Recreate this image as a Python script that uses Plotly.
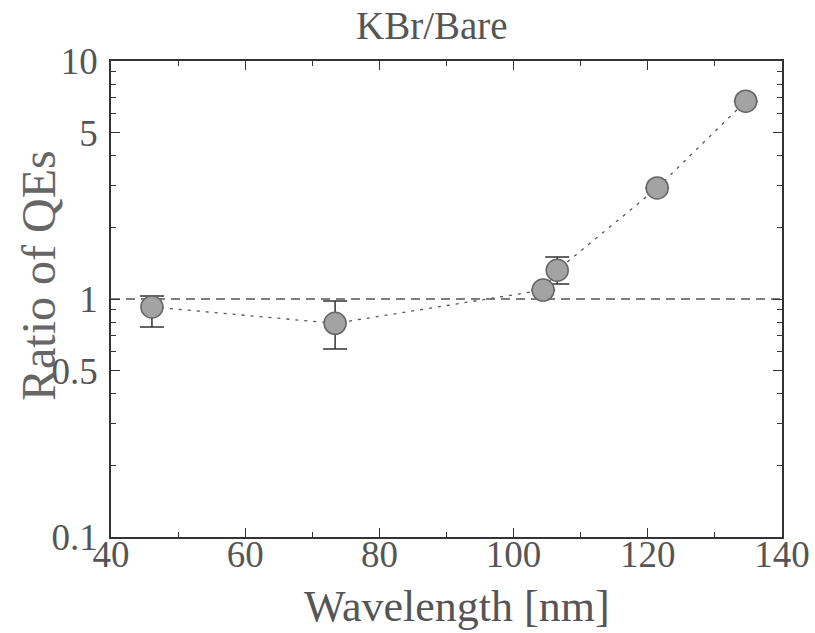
import plotly.graph_objects as go

wavelength = [46.1, 73.4, 104.4, 106.5, 121.4, 134.6]
ratio = [0.926, 0.79, 1.09, 1.32, 2.93, 6.78]
err_plus = [0.104, 0.19, 0.0, 0.18, 0.0, 0.0]
err_minus = [0.163, 0.173, 0.0, 0.164, 0.0, 0.0]

ref_x = [40, 140]
ref_y = [1, 1]

x_ticks = [40, 60, 80, 100, 120, 140]
x_minor = [50, 70, 90, 110, 130]
y_ticks = [0.1, 0.5, 1, 5, 10]
y_ticktext = ["0.1", "0.5", "1", "5", "10"]
y_minor = [0.2, 0.3, 0.4, 0.6, 0.7, 0.8, 0.9, 2, 3, 4, 6, 7, 8, 9]

FONT = "'Liberation Serif', 'Times New Roman', Times, serif"
TXT = "#555555"
AX = "#333333"

W, H = 815, 633
L, R, T, B = 111, 33, 61, 96
PW, PH = W - L - R, H - T - B

fig = go.Figure()
fig.add_trace(go.Scatter(
    x=ref_x, y=ref_y, mode="lines",
    line=dict(color="#555555", width=1.3, dash="9px,6px"),
    showlegend=False, hoverinfo="skip"))
fig.add_trace(go.Scatter(
    x=wavelength, y=ratio, mode="lines+markers",
    line=dict(color="#555555", width=1.3, dash="3px,6px"),
    marker=dict(size=22, color="#a3a3a3", line=dict(color="#666666", width=1.5)),
    error_y=dict(type="data", symmetric=False, array=err_plus, arrayminus=err_minus,
                 color="#333333", thickness=1.5, width=12),
    showlegend=False))

fig.update_layout(
    width=W, height=H,
    margin=dict(l=L, r=R, t=T, b=B, autoexpand=False),
    paper_bgcolor="white", plot_bgcolor="white",
    font=dict(family=FONT, color=TXT),
    annotations=[
        dict(text="KBr/Bare", xref="paper", yref="paper",
             x=(432 - L) / PW, y=1 + (T - 25) / PH,
             xanchor="center", yanchor="middle", showarrow=False,
             font=dict(family=FONT, size=39, color=TXT)),
        dict(text="Wavelength [nm]", xref="paper", yref="paper",
             x=(457 - L) / PW, y=-(606 - (H - B)) / PH,
             xanchor="center", yanchor="middle", showarrow=False,
             font=dict(family=FONT, size=44, color=TXT)),
        dict(text="Ratio of QEs", xref="paper", yref="paper", textangle=-90,
             x=-(L - 38) / PW, y=((H - B) - 276) / PH,
             xanchor="center", yanchor="middle", showarrow=False,
             font=dict(family=FONT, size=48, color="#666666")),
    ],
)
fig.update_xaxes(
    range=[40, 140], tickvals=x_ticks, ticks="inside", ticklen=9, tickwidth=1.3,
    tickcolor=AX, showline=True, linecolor=AX, linewidth=1.5, mirror="ticks",
    showgrid=False, zeroline=False, automargin=False, ticklabelstandoff=-16,
    tickfont=dict(family=FONT, size=37, color=TXT),
    minor=dict(tickvals=x_minor, ticks="inside", ticklen=5, tickcolor=AX),
)
fig.update_yaxes(
    type="log", range=[-1, 1], tickvals=y_ticks, ticktext=y_ticktext,
    ticks="inside", ticklen=9, tickwidth=1.3, tickcolor=AX,
    showline=True, linecolor=AX, linewidth=1.5, mirror="ticks",
    showgrid=False, zeroline=False, automargin=False, ticklabelstandoff=4,
    tickfont=dict(family=FONT, size=37, color=TXT),
    minor=dict(tickvals=y_minor, ticks="inside", ticklen=5, tickcolor=AX),
)

fig.write_html("out.html")
